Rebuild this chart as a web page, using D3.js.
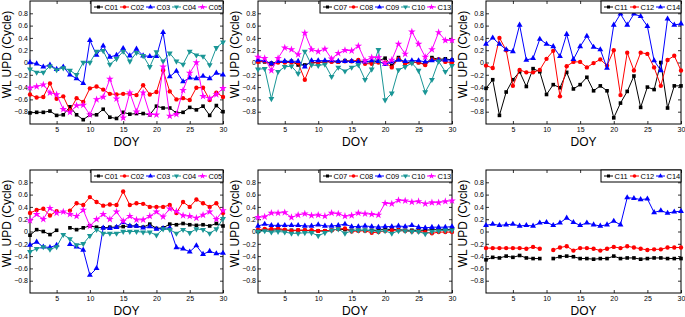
<!DOCTYPE html>
<html><head><meta charset="utf-8">
<script src="https://cdn.jsdelivr.net/npm/d3@7"></script>
<style>body{margin:0;background:#fff}svg{display:block}</style>
</head><body>
<svg id="c" width="685" height="317"></svg>
<script>
const days = d3.range(1, 31);
const yTicks = [-0.8,-0.6,-0.4,-0.2,0,0.2,0.4,0.6,0.8];
const xTicks = [5,10,15,20,25,30];
const N = null;

// Top row
const t_C01 = [-0.82,-0.81,-0.81,-0.79,-0.86,-0.85,-0.72,-0.85,-0.93,-0.85,-0.85,-0.76,-0.89,-0.91,-0.81,-0.84,-0.83,-0.83,-0.85,-0.71,-0.74,-0.74,-0.82,-0.81,-0.73,-0.77,-0.71,-0.86,-0.70,-0.80];
const t_C02 = [-0.52,-0.57,-0.56,-0.34,-0.59,-0.55,-0.78,-0.58,-0.64,-0.42,-0.39,-0.44,-0.51,-0.52,-0.51,-0.51,-0.53,-0.37,-0.52,-0.48,-0.13,-0.47,-0.60,-0.58,-0.61,-0.41,-0.41,-0.61,-0.49,-0.56];
const t_C03 = [0.00,-0.02,-0.07,-0.04,-0.11,-0.07,-0.20,-0.26,-0.34,0.36,0.12,0.27,0.09,0.12,0.23,0.11,0.22,0.11,0.10,0.10,0.49,-0.23,-0.14,-0.31,-0.25,-0.26,-0.22,-0.26,-0.17,-0.20];
const t_C04 = [-0.11,-0.16,-0.16,-0.06,-0.12,-0.09,-0.13,-0.20,0.00,0.00,0.18,0.19,-0.03,0.06,0.18,0.02,0.16,0.11,-0.07,0.17,0.02,0.15,0.02,-0.03,0.18,0.12,0.10,-0.04,0.24,0.33];
const t_C05 = [-0.41,-0.39,-0.36,-0.49,-0.52,-0.76,-0.81,-0.70,-0.69,-0.85,-0.60,-0.56,-0.27,-0.59,-0.90,-0.49,-0.80,-0.49,-0.84,-0.85,-0.07,-0.87,-0.84,-0.45,-0.17,0.00,-0.55,-0.58,-0.52,-0.42];

const t_C07 = [0.02,0.01,-0.01,0.01,0.01,0.02,-0.04,-0.04,0.00,0.00,0.01,0.02,0.01,0.03,0.02,0.02,0.02,0.00,0.03,0.07,-0.05,0.08,-0.01,0.01,0.00,-0.03,0.08,0.05,0.06,0.04];
const t_C08 = [0.01,0.02,-0.03,0.00,0.00,0.00,-0.01,-0.28,-0.01,0.00,0.01,0.01,0.01,0.02,0.02,0.04,-0.02,-0.02,0.00,0.00,-0.08,0.06,-0.02,0.00,0.00,-0.04,0.05,0.05,0.01,0.00];
const t_C09 = [0.04,0.03,-0.02,0.02,0.02,0.02,0.02,-0.07,0.03,0.03,0.03,0.03,0.02,0.02,0.02,0.01,0.01,0.03,0.02,-0.03,0.01,0.04,0.02,0.03,0.03,0.01,0.03,0.04,0.04,0.04];
const t_C10 = [-0.11,-0.10,-0.59,-0.15,-0.07,-0.06,-0.18,0.18,-0.04,-0.05,-0.03,-0.23,-0.08,-0.14,-0.08,-0.04,-0.28,-0.11,0.21,-0.61,-0.50,-0.12,-0.07,-0.01,-0.13,-0.48,-0.28,0.02,-0.15,-0.05];
const t_C13 = [0.09,0.07,-0.13,0.07,0.24,0.21,0.13,0.48,0.21,0.18,0.22,0.06,0.15,0.20,0.19,0.27,0.03,0.08,0.08,-0.01,0.04,0.30,0.14,0.50,0.30,0.09,0.21,0.49,0.36,0.36];

const t_C11 = [-0.42,-0.28,-0.86,-0.48,-0.28,-0.15,-0.39,-0.10,-0.15,-0.52,-0.36,-0.41,-0.16,-0.43,-0.36,-0.24,-0.46,-0.38,-0.46,-0.90,-0.66,-0.47,-0.22,-0.73,-0.40,-0.44,0.00,-0.74,-0.38,-0.38];
const t_C12 = [-0.05,-0.09,0.40,0.20,-0.38,-0.12,-0.16,-0.16,-0.12,0.06,0.19,-0.55,-0.06,0.01,0.01,-0.08,-0.01,0.05,-0.05,0.20,-0.53,0.16,-0.13,0.16,0.14,-0.08,-0.38,0.04,0.11,-0.13];
const t_C14 = [0.30,0.40,0.30,0.21,0.18,0.61,0.04,0.07,0.38,0.30,0.26,0.10,0.46,0.05,0.26,0.43,0.25,0.21,-0.09,0.61,0.79,0.61,0.79,0.75,0.59,0.03,-0.13,0.71,0.61,0.63];

// Bottom row
const b_C01 = [-0.06,0.03,0.00,-0.05,0.02,N,0.06,0.03,0.06,0.09,0.07,0.06,0.07,0.07,0.08,0.09,0.09,0.07,0.12,0.05,0.06,0.12,0.11,0.13,0.11,0.10,0.11,0.09,0.13,0.09];
const b_C02 = [0.30,0.35,0.37,0.26,0.33,N,0.34,0.46,0.43,0.56,0.48,0.42,0.44,0.43,0.65,0.43,0.46,0.45,0.40,0.40,0.40,0.43,0.30,0.48,0.40,0.52,0.46,0.40,0.46,0.30];
const b_C03 = [-0.22,-0.17,-0.25,-0.26,-0.22,N,-0.21,-0.25,-0.30,-0.71,-0.60,0.06,0.05,0.07,0.15,0.09,0.09,0.06,0.08,0.04,0.05,0.06,-0.26,-0.28,-0.33,-0.23,-0.37,-0.32,-0.36,-0.35];
const b_C04 = [-0.33,-0.28,-0.25,-0.29,-0.25,-0.05,-0.12,-0.22,-0.20,-0.07,0.03,-0.03,-0.03,-0.03,0.00,0.00,0.00,-0.01,-0.01,-0.06,0.04,0.03,-0.03,0.03,-0.02,0.04,0.03,-0.03,0.04,0.21];
const b_C05 = [0.18,0.28,0.20,0.38,0.30,0.32,0.28,0.25,0.35,0.09,0.20,0.28,0.20,0.32,0.17,0.25,0.19,0.19,0.25,0.32,0.24,0.37,0.33,0.26,0.25,0.22,0.27,0.32,0.20,0.34];

const b_C07 = [0.00,0.03,0.02,0.03,0.02,0.02,0.02,0.02,0.01,0.01,0.01,0.02,0.04,0.03,0.02,0.02,0.02,0.02,0.02,0.04,0.03,0.03,0.02,0.02,0.02,0.02,0.03,0.03,0.03,0.03];
const b_C08 = [0.03,0.04,0.04,0.05,0.03,0.01,0.02,0.02,0.02,0.01,0.01,0.02,0.04,0.05,0.00,0.01,0.01,-0.02,-0.01,0.01,0.02,0.02,0.01,0.00,0.00,-0.01,-0.03,-0.01,-0.01,-0.01];
const b_C09 = [0.09,0.12,0.10,0.10,0.10,0.10,0.10,0.09,0.09,0.11,0.09,0.09,0.10,0.12,0.08,0.08,0.09,0.08,0.07,0.08,0.08,0.09,0.08,0.10,0.07,0.06,0.07,0.07,0.07,0.08];
const b_C10 = [0.00,0.01,-0.01,0.00,-0.01,-0.03,-0.03,-0.02,-0.02,-0.07,-0.02,0.02,0.04,-0.03,0.01,0.02,0.02,0.01,0.00,0.01,-0.03,0.01,0.01,0.00,0.00,-0.04,0.00,0.01,0.02,0.02];
const b_C13 = [0.23,0.24,0.30,0.30,0.31,0.23,0.27,0.29,0.26,0.27,0.25,0.30,0.29,0.25,0.26,0.30,0.29,0.28,0.27,0.46,0.45,0.51,0.50,0.48,0.49,0.45,0.47,0.47,0.49,0.50];

const b_C11 = [-0.46,-0.42,-0.43,-0.40,-0.42,-0.39,-0.43,-0.44,-0.44,N,-0.44,-0.41,-0.40,-0.41,-0.44,-0.44,-0.45,-0.44,-0.44,-0.40,-0.44,-0.43,-0.43,-0.45,-0.44,-0.43,-0.43,-0.44,-0.44,-0.44];
const b_C12 = [-0.27,-0.27,-0.27,-0.27,-0.27,-0.27,-0.28,-0.25,-0.28,N,-0.30,-0.26,-0.24,-0.31,-0.27,-0.27,-0.28,-0.31,-0.28,-0.25,-0.27,-0.24,-0.26,-0.28,-0.30,-0.29,-0.29,-0.26,-0.26,-0.26];
const b_C14 = [0.10,0.12,0.10,0.11,0.12,0.09,0.10,0.09,0.14,0.15,0.10,0.14,0.22,0.15,0.10,0.14,0.11,0.09,0.11,0.17,0.11,0.55,0.54,0.52,0.53,0.31,0.34,0.30,0.32,0.33];

const STY = {
  black:  {c:"#000000", m:d3.symbolSquare, s:13},
  red:    {c:"#ff0000", m:d3.symbolCircle, s:15},
  blue:   {c:"#0000ff", m:d3.symbolTriangle, s:15},
  teal:   {c:"#1a9696", m:"tdown", s:15},
  mag:    {c:"#ff00ff", m:d3.symbolStar, s:18}
};

const panels = [
  {x0:30, x1:223, y0:1, y1:124, series:[["C01",t_C01,"black"],["C02",t_C02,"red"],["C03",t_C03,"blue"],["C04",t_C04,"teal"],["C05",t_C05,"mag"]]},
  {x0:258, x1:452, y0:1, y1:124, series:[["C07",t_C07,"black"],["C08",t_C08,"red"],["C09",t_C09,"blue"],["C10",t_C10,"teal"],["C13",t_C13,"mag"]]},
  {x0:486, x1:681, y0:1, y1:124, series:[["C11",t_C11,"black"],["C12",t_C12,"red"],["C14",t_C14,"blue"]]},
  {x0:30, x1:223, y0:170, y1:293, series:[["C01",b_C01,"black"],["C02",b_C02,"red"],["C03",b_C03,"blue"],["C04",b_C04,"teal"],["C05",b_C05,"mag"]]},
  {x0:258, x1:452, y0:170, y1:293, series:[["C07",b_C07,"black"],["C08",b_C08,"red"],["C09",b_C09,"blue"],["C10",b_C10,"teal"],["C13",b_C13,"mag"]]},
  {x0:486, x1:681, y0:170, y1:293, series:[["C11",b_C11,"black"],["C12",b_C12,"red"],["C14",b_C14,"blue"]]}
];

const svg = d3.select("#c");
const FONT = "Liberation Sans, Arial, sans-serif";

function marker(g, st, x, y){
  if (st.m === "tdown") {
    g.append("path").attr("d", d3.symbol(d3.symbolTriangle, st.s)())
      .attr("transform", `translate(${x},${y}) rotate(180)`).attr("fill", st.c);
  } else {
    g.append("path").attr("d", d3.symbol(st.m, st.s)())
      .attr("transform", `translate(${x},${y})`).attr("fill", st.c);
  }
}

panels.forEach(p => {
  const x = d3.scaleLinear().domain([1,30]).range([p.x0, p.x1]);
  const y = d3.scaleLinear().domain([-1,1]).range([p.y1, p.y0]);
  const g = svg.append("g");

  const gb = g.append("g").attr("transform", `translate(0,${p.y1})`)
    .call(d3.axisBottom(x).tickValues(xTicks).tickSize(-3).tickPadding(3).tickFormat(d3.format("d")));
  const gt = g.append("g").attr("transform", `translate(0,${p.y0})`)
    .call(d3.axisTop(x).tickValues(xTicks).tickSize(-3).tickFormat(""));
  const gl = g.append("g").attr("transform", `translate(${p.x0},0)`)
    .call(d3.axisLeft(y).tickValues(yTicks).tickSize(-3).tickPadding(2).tickFormat(d => d === 0 ? "0" : d3.format(".1f")(d)));
  const gr = g.append("g").attr("transform", `translate(${p.x1},0)`)
    .call(d3.axisRight(y).tickValues(yTicks).tickSize(-3).tickFormat(""));
  [gb,gt,gl,gr].forEach(a => {
    a.select(".domain").remove();
    a.selectAll("line").attr("stroke","#000").attr("stroke-width",0.8);
    a.selectAll("text").attr("font-family", FONT).attr("font-size", 7).attr("fill","#000");
  });
  g.append("rect").attr("x",p.x0).attr("y",p.y0).attr("width",p.x1-p.x0).attr("height",p.y1-p.y0)
    .attr("fill","none").attr("stroke","#000").attr("stroke-width",1);

  p.series.forEach(([name, vals, key]) => {
    const st = STY[key];
    const line = d3.line().defined(d => d[1] !== null).x(d => x(d[0])).y(d => y(d[1]));
    const pts = days.map((d,i) => [d, vals[i]]);
    g.append("path").attr("d", line(pts)).attr("fill","none").attr("stroke", st.c).attr("stroke-width",1);
    pts.filter(d => d[1] !== null).forEach(d => marker(g, st, x(d[0]), y(d[1])));
  });

  const n = p.series.length, pitch = 26;
  const lw = n*pitch + 2, lh = 12;
  const lx = p.x1 - lw, ly = p.y0;
  const lg = g.append("g");
  lg.append("rect").attr("x",lx).attr("y",ly).attr("width",lw).attr("height",lh)
    .attr("fill","#fff").attr("stroke","#000").attr("stroke-width",1);
  p.series.forEach(([name, vals, key], i) => {
    const st = STY[key];
    const sx = lx + 3 + i*pitch, cy = ly + lh/2;
    lg.append("line").attr("x1",sx).attr("x2",sx+9).attr("y1",cy).attr("y2",cy).attr("stroke",st.c).attr("stroke-width",1);
    marker(lg, {c:st.c, m:st.m, s:st.s*0.7}, sx+4.5, cy);
    lg.append("text").attr("x", sx+10.5).attr("y", cy+2.8).attr("font-family",FONT).attr("font-size",7.5).text(name);
  });

  g.append("text").attr("x",(p.x0+p.x1)/2).attr("y",p.y1+21.5).attr("text-anchor","middle")
    .attr("font-family",FONT).attr("font-size",12).text("DOY");
  const cy = (p.y0+p.y1)/2 - 8, cx = p.x0 - 19;
  g.append("text").attr("transform",`translate(${cx},${cy}) rotate(-90)`).attr("text-anchor","middle")
    .attr("font-family",FONT).attr("font-size",12).text("WL UPD (Cycle)");
});
</script>
</body></html>
